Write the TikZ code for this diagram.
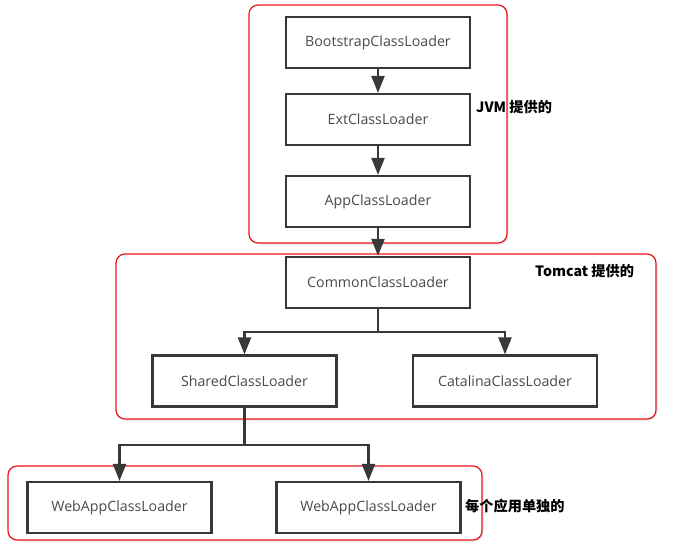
\documentclass[tikz,border=0pt]{standalone}
\usepackage{fontspec}
\setmainfont{Open Sans}
\newfontfamily\cjk{Noto Sans CJK SC}
\usetikzlibrary{arrows.meta,shadows}
\definecolor{boxline}{HTML}{383838}
\definecolor{boxtext}{HTML}{4A4A4A}
\definecolor{grpred}{HTML}{E8141C}
\tikzset{
  loader/.style={draw=boxline, line width=2.2pt, fill=white, minimum width=184pt, minimum height=51pt, inner sep=0pt, font=\fontsize{14.2}{16}\selectfont, text=boxtext},
  group/.style={draw=grpred, fill=white, line width=1.2pt, rounded corners=9pt, drop shadow={shadow xshift=1.5pt, shadow yshift=-1.5pt, opacity=0.25, fill=black!40}},
  conn/.style={draw=boxline, line width=2.2pt},
  arr/.style={conn, -{Triangle[length=17pt, width=13pt]}},
  note/.style={font=\cjk\bfseries\fontsize{14.2}{16}\selectfont, text=black, inner sep=0pt}
}
\begin{document}
\begin{tikzpicture}[x=1pt, y=-1pt]
\useasboundingbox (0,0) rectangle (690,557);
% groups
\draw[group] (249,5) rectangle (507,243);
\draw[group] (116,254) rectangle (656,419);
\draw[group] (8,466) rectangle (482,540);
% nodes
\node[loader] (boot) at (378,42.5) {BootstrapClassLoader};
\node[loader] (ext) at (378,119.5) {ExtClassLoader};
\node[loader] (app) at (378,201.5) {AppClassLoader};
\node[loader] (common) at (378,282.5) {CommonClassLoader};
\node[loader] (shared) at (244.5,381) {SharedClassLoader};
\node[loader] (catalina) at (505,381) {CatalinaClassLoader};
\node[loader] (web1) at (119.5,507.5) {WebAppClassLoader};
\node[loader] (web2) at (368.5,507.5) {WebAppClassLoader};
% labels
\node[note, anchor=west] (ljvm) at (476,107) {JVM 提供的};
\node[note, anchor=west] (ltom) at (535,271) {Tomcat 提供的};
\node[note, anchor=west] (lweb) at (465,506) {每个应用单独的};
% connectors
\coordinate (j1) at (378,332);
\coordinate (j2) at (244.5,445);
\draw[arr] (boot) -- (ext);
\draw[arr] (ext) -- (app);
\draw[arr] (app) -- (common);
\draw[conn] (common.south) -- (j1);
\draw[arr] (j1) -| (shared.north);
\draw[arr] (j1) -| (catalina.north);
\draw[conn] (shared.south) -- (j2);
\draw[arr] (j2) -| (web1.north);
\draw[arr] (j2) -| (web2.north);
\end{tikzpicture}
\end{document}
